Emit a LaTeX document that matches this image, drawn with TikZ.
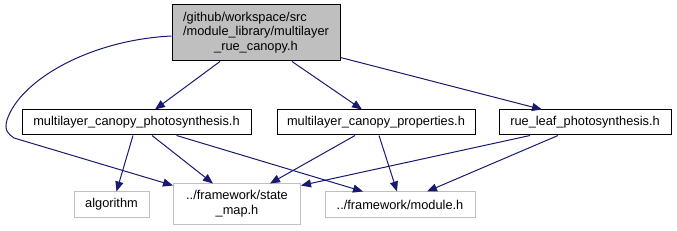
\documentclass[tikz,border=0pt]{standalone}
\usepackage{fontspec}
\setmainfont{Liberation Sans}
\usetikzlibrary{arrows.meta, calc}
\definecolor{edgeblue}{RGB}{25,25,112}
\definecolor{boxgray}{RGB}{191,191,191}

\begin{document}
\begin{tikzpicture}[x=0.75pt, y=-0.75pt,
    file/.style={draw, line width=0.75pt, inner sep=0pt, minimum height=18.75pt, font=\fontsize{9.6}{11}\selectfont},
    sysfile/.style={file, draw=boxgray},
    inc/.style={-{Triangle[length=7.5pt,width=6pt]}, edgeblue, line width=0.75pt}]
      \useasboundingbox (0,0) rectangle (677,231);
      \node[file, fill=boxgray, minimum width=126pt, minimum height=42pt] (root) at (256,33)
        {\begin{tabular}{@{}l@{}}/github/workspace/src\\/module\_library/multilayer\\\multicolumn{1}{@{}c@{}}{\_rue\_canopy.h}\end{tabular}};
      \node[file, minimum width=171.75pt] (mcp) at (136.5,122.5) {multilayer\_canopy\_photosynthesis.h};
      \node[file, minimum width=148.5pt] (mcprop) at (376,122.5) {multilayer\_canopy\_properties.h};
      \node[file, minimum width=129pt] (rue) at (585,122.5) {rue\_leaf\_photosynthesis.h};
      \node[sysfile, minimum width=56.25pt] (alg) at (111.5,204.5) {algorithm};
      \node[sysfile, minimum width=95.25pt, minimum height=30pt] (state) at (237,204)
        {\begin{tabular}{@{}c@{}}../framework/state\\\_map.h\end{tabular}};
      \node[sysfile, minimum width=112.5pt] (module) at (400,204.5) {../framework/module.h};
      % includes of the top file
      \draw[inc] ($(root.south)+(-36,0)$) -- ($(mcp.north)+(18.5,0)$);
      \draw[inc] ($(root.south)+(36,0)$) -- ($(mcprop.north)+(-14,0)$);
      \draw[inc] ($(root.south east)+(0,-4)$) -- ($(rue.north)+(-43,0)$);
      \draw[inc] ($(root.west)+(0,3)$) .. controls (90,40) and (20,80) .. (7,120)
        .. controls (4,130) and (8,134) .. (14,138) -- ($(state.north west)+(0,2)$);
      % second level
      \draw[inc] ($(mcp.south)+(-3.5,0)$) -- ($(alg.north)+(5,0)$);
      \draw[inc] ($(mcp.south)+(15.5,0)$) -- ($(state.north)+(-24,0)$);
      \draw[inc] ($(mcp.south)+(40,0)$) -- ($(module.north)+(-37,0)$);
      \draw[inc] ($(mcprop.south)+(-21,0)$) -- ($(state.north)+(33,0)$);
      \draw[inc] ($(mcprop.south)+(3,0)$) -- ($(module.north)+(-3,0)$);
      \draw[inc] ($(rue.south)+(-55,0)$) -- ($(state.north east)+(0,2)$);
      \draw[inc] ($(rue.south)+(-27,0)$) -- ($(module.north)+(27,0)$);
    \end{tikzpicture}
\end{document}
